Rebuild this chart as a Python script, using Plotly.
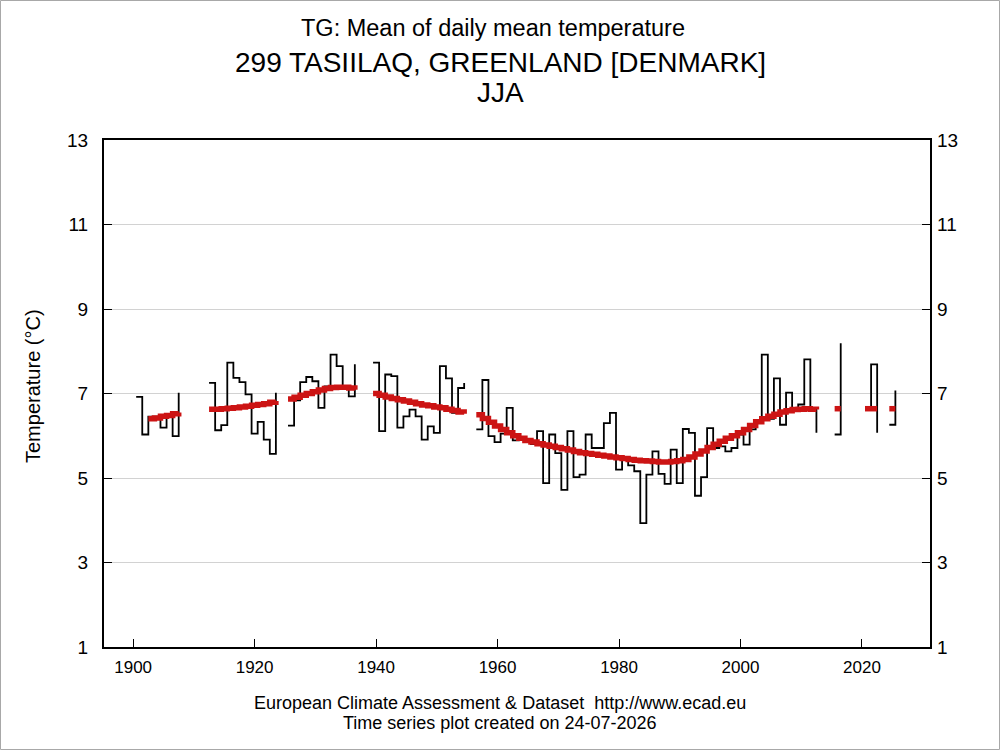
import plotly.graph_objects as go

# JJA mean of daily mean temperature, one value per year (None = missing)
years = list(range(1900, 2026))

tg = [
    6.92, 6.03, 6.45, 6.45, 6.19, 6.52, 5.99, 7.02, None, None,   # 1900
    None, None, 7.25, 6.13, 6.25, 7.73, 7.37, 7.27, 6.98, 6.05,   # 1910
    6.33, 5.91, 5.57, 7.02, None, 6.24, 6.84, 7.27, 7.39, 7.29,   # 1920
    6.66, 7.17, 7.92, 7.65, 7.15, 6.93, 7.69, None, None, 7.73,   # 1930
    6.11, 7.45, 7.41, 6.19, 6.46, 6.62, 6.46, 5.91, 6.22, 6.07,   # 1940
    7.65, 7.36, 6.54, 7.13, 7.25, None, 6.15, 7.32, 5.99, 5.85,   # 1950
    6.05, 6.66, 5.89, 5.92, 5.85, 5.80, 6.11, 4.88, 6.03, 5.59,   # 1960
    4.72, 6.11, 5.02, 5.08, 6.03, 5.71, 5.71, 6.30, 6.54, 5.20,   # 1970
    5.43, 5.30, 5.16, 3.93, 5.08, 5.63, 5.10, 4.86, 5.67, 4.88,   # 1980
    6.16, 6.07, 4.58, 5.02, 6.18, 5.71, 5.75, 5.63, 5.71, 6.03,   # 1990
    5.79, 6.15, 6.34, 7.92, 6.40, 7.36, 6.26, 7.02, 6.62, 6.74,   # 2000
    7.81, 6.62, 6.07, None, None, 6.03, 8.19, None, None, None,   # 2010
    6.62, 7.69, 6.07, None, 6.26, 7.07,                           # 2020
]

tg_smooth = [
    None, None, 6.40, 6.42, 6.46, 6.48, 6.52, 6.55, None, None,   # 1900
    None, None, 6.63, 6.63, 6.64, 6.65, 6.66, 6.68, 6.70, 6.72,   # 1910
    6.74, 6.76, 6.79, 6.82, None, 6.87, 6.91, 6.96, 7.00, 7.04,   # 1920
    7.08, 7.12, 7.14, 7.15, 7.15, 7.13, 7.09, None, None, 7.00,   # 1930
    6.96, 6.92, 6.88, 6.85, 6.82, 6.79, 6.76, 6.73, 6.71, 6.68,   # 1940
    6.66, 6.63, 6.60, 6.56, 6.52, None, 6.50, 6.41, 6.32, 6.23,   # 1950
    6.15, 6.07, 6.00, 5.94, 5.89, 5.85, 5.81, 5.78, 5.75, 5.72,   # 1960
    5.69, 5.66, 5.63, 5.60, 5.58, 5.56, 5.54, 5.52, 5.50, 5.48,   # 1970
    5.46, 5.44, 5.42, 5.41, 5.40, 5.39, 5.38, 5.38, 5.39, 5.41,   # 1980
    5.44, 5.50, 5.57, 5.64, 5.72, 5.80, 5.87, 5.94, 6.00, 6.07,   # 1990
    6.15, 6.24, 6.33, 6.40, 6.46, 6.51, 6.56, 6.59, 6.62, 6.63,   # 2000
    6.64, 6.63, 6.62, None, None, 6.64, 6.64, None, None, None,   # 2010
    6.64, 6.64, 6.64, None, 6.64, 6.64,                           # 2020
]

x_ticks = [1900, 1920, 1940, 1960, 1980, 2000, 2020]
y_ticks = [1, 3, 5, 7, 9, 11, 13]

# plot area in page pixels
L, R, T, B = 104, 930, 140, 647
W, H = 1000, 750


def pxx(x):
    return (x - L) / (R - L)


def pxy(y):
    return (B - y) / (B - T)


FONT = "Liberation Sans, Arial, sans-serif"

x_steps = [y + 0.5 for y in years]

fig = go.Figure()
fig.add_trace(go.Scatter(x=x_steps, y=tg, mode="lines", connectgaps=False,
                         line=dict(color="black", width=1.8, shape="hv"),
                         showlegend=False))
fig.add_trace(go.Scatter(x=x_steps, y=tg_smooth, mode="lines", connectgaps=False,
                         line=dict(color="#cc1414", width=5.5, shape="hv"),
                         showlegend=False))
# dummy trace so the right hand axis is drawn
fig.add_trace(go.Scatter(x=[2000], y=[None], yaxis="y2", showlegend=False,
                         hoverinfo="skip"))

axis_common = dict(ticks="inside", ticklen=8, tickcolor="black", tickwidth=1,
                   zeroline=False, color="black")

fig.update_layout(
    width=W, height=H,
    margin=dict(l=L, r=W - R, t=T, b=H - B),
    paper_bgcolor="white", plot_bgcolor="white",
    font=dict(family=FONT, color="black"),
    xaxis=dict(range=[1895.2, 2031.2], tickvals=x_ticks, showgrid=False,
               showline=True, linecolor="black", linewidth=2, mirror=True,
               tickfont=dict(size=17), ticklabelstandoff=4, **axis_common),
    yaxis=dict(range=[1, 13], tickvals=y_ticks, showgrid=True,
               gridcolor="#d2d2d2", gridwidth=1,
               showline=True, linecolor="black", linewidth=2, mirror=True,
               tickfont=dict(size=19), ticklabelstandoff=10, **axis_common),
    yaxis2=dict(range=[1, 13], tickvals=y_ticks, overlaying="y", side="right",
                showgrid=False, showline=False,
                tickfont=dict(size=19), ticklabelstandoff=6, **axis_common),
)

texts = [
    ("TG: Mean of daily mean temperature", 493, 28, 23.5),
    ("299 TASIILAQ, GREENLAND [DENMARK]", 500, 63, 28),
    ("JJA", 500, 93, 28),
    ("European Climate Assessment & Dataset  http://www.ecad.eu", 500, 703, 18),
    ("Time series plot created on 24-07-2026", 500, 723, 18),
]
for txt, xpix, ypix, size in texts:
    fig.add_annotation(text=txt, xref="paper", yref="paper",
                       x=pxx(xpix), y=pxy(ypix), xanchor="center",
                       yanchor="middle", showarrow=False,
                       font=dict(size=size, family=FONT))

fig.add_annotation(text="Temperature (°C)", xref="paper", yref="paper",
                   x=pxx(33), y=pxy(386), textangle=-90, xanchor="center",
                   yanchor="middle", showarrow=False,
                   font=dict(size=20, family=FONT))

# thin grey frame round the whole page
fig.add_shape(type="rect", xref="paper", yref="paper",
              x0=pxx(0.5), x1=pxx(W - 0.5), y0=pxy(H - 0.5), y1=pxy(0.5),
              line=dict(color="#a8a8a8", width=1))

fig.write_html("out.html", config={"displayModeBar": False},
               post_script="document.body.style.margin='0px';")
